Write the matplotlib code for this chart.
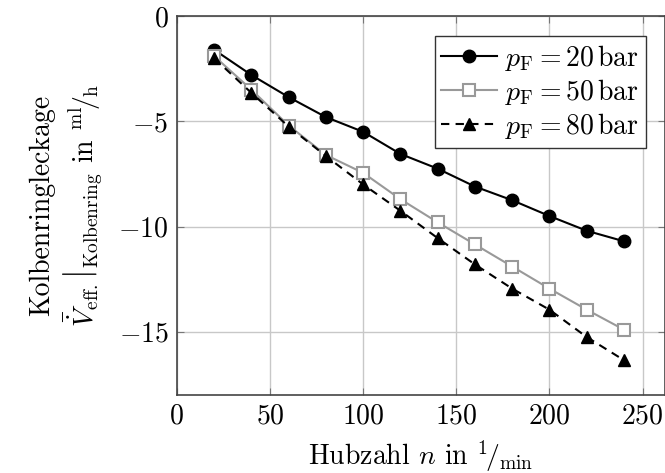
import numpy as np
import matplotlib
matplotlib.use("Agg")
import matplotlib.pyplot as plt

# --- Daten ---
hubzahl = [20, 40, 60, 80, 100, 120, 140, 160, 180, 200, 220, 240]
leck_20bar = [-1.6, -2.8, -3.85, -4.8, -5.5, -6.55, -7.25, -8.1, -8.75, -9.5, -10.2, -10.7]
leck_50bar = [-1.9, -3.5, -5.2, -6.6, -7.45, -8.7, -9.8, -10.85, -11.9, -12.95, -13.95, -14.9]
leck_80bar = [-2.0, -3.65, -5.25, -6.65, -8.0, -9.25, -10.55, -11.8, -12.95, -13.95, -15.25, -16.35]
labels = [r"$p_{\mathrm{F}} = 20\,\mathrm{bar}$",
          r"$p_{\mathrm{F}} = 50\,\mathrm{bar}$",
          r"$p_{\mathrm{F}} = 80\,\mathrm{bar}$"]

plt.rcParams["font.family"] = "serif"
plt.rcParams["font.serif"] = ["cmr10", "DejaVu Serif"]
plt.rcParams["mathtext.fontset"] = "cm"
plt.rcParams["axes.formatter.use_mathtext"] = True
plt.rcParams["font.size"] = 20

fig = plt.figure(figsize=(6.65, 4.73), dpi=100)
ax = fig.add_axes([0.266, 0.165, 0.734, 0.801])

ax.plot(hubzahl, leck_20bar, color="black", lw=1.5, marker="o", ms=9, label=labels[0])
ax.plot(hubzahl, leck_50bar, color="#999999", lw=1.5, marker="s", ms=8,
        mfc="white", mec="#999999", mew=1.5, label=labels[1])
ax.plot(hubzahl, leck_80bar, color="black", lw=1.5, ls=(0, (4, 3)), marker="^", ms=8,
        label=labels[2])

ax.set_xlim(0, 262)
ax.set_ylim(-18, 0)
ax.set_xticks([0, 50, 100, 150, 200, 250])
ax.set_yticks([0, -5, -10, -15])
ax.grid(True, color="#c8c8c8", lw=1)
ax.set_axisbelow(True)
ax.tick_params(direction="in", top=True, right=True, length=5, color="#777777", pad=6)
for s in ax.spines.values():
    s.set_color("#444444")
    s.set_linewidth(1.2)

ax.set_xlabel(r"Hubzahl $n$ in $^{1}\!/_{\mathrm{min}}$", labelpad=6)
ax.set_ylabel("Kolbenringleckage\n"
              r"$\left.\bar{\dot{V}}_{\mathrm{eff.}}\right|_{\mathrm{Kolbenring}}$ in $^{\mathrm{ml}}\!/_{\mathrm{h}}$",
              labelpad=10)

leg = ax.legend(loc="upper right", frameon=True, fancybox=False, framealpha=1,
                edgecolor="#333333", handlelength=2.0, borderpad=0.25,
                labelspacing=0.15, handletextpad=0.3, bbox_to_anchor=(0.99, 0.985))
leg.get_frame().set_linewidth(1.0)

fig.savefig("out.png", dpi=100)
